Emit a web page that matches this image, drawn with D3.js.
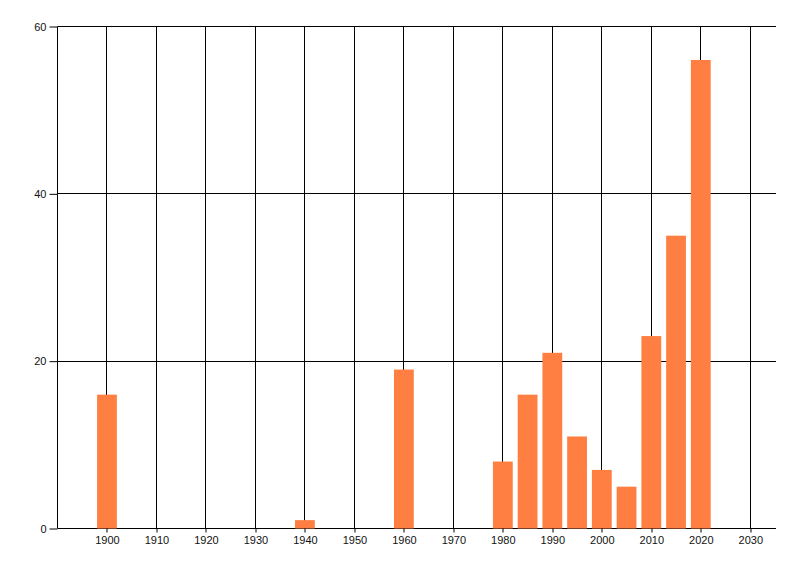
<!DOCTYPE html>
<html><head><meta charset="utf-8">
<script src="https://cdn.jsdelivr.net/npm/d3@7"></script>
<style>body{margin:0;background:#fff}svg{display:block}text{font-family:"Liberation Sans",Arial,sans-serif;font-size:11px;fill:#111}</style>
</head><body><svg id="c" width="800" height="576"></svg>
<script>
const years = [1900, 1940, 1960, 1980, 1985, 1990, 1995, 2000, 2005, 2010, 2015, 2020];
const counts = [16, 1, 19, 8, 16, 21, 11, 7, 5, 23, 35, 56];
const xTicks = [1900, 1910, 1920, 1930, 1940, 1950, 1960, 1970, 1980, 1990, 2000, 2010, 2020, 2030];
const yTicks = [0, 20, 40, 60];

const svg = d3.select("#c");
const x = d3.scaleLinear().domain([1890, 2035.2]).range([57.5, 776]);
const y = d3.scaleLinear().domain([0, 60]).range([528.5, 26.5]);
const snap = v => Math.round(v - 0.5) + 0.5;

// grid
svg.append("g").selectAll("line").data(xTicks).join("line")
  .attr("x1", d => snap(x(d))).attr("x2", d => snap(x(d)))
  .attr("y1", y(60)).attr("y2", y(0)).attr("stroke", "#000");
svg.append("g").selectAll("line").data(yTicks).join("line")
  .attr("x1", 57.5).attr("x2", 776).attr("y1", d => snap(y(d))).attr("y2", d => snap(y(d))).attr("stroke", "#000");
svg.append("line").attr("x1", 57.5).attr("x2", 57.5).attr("y1", y(60)).attr("y2", y(0)).attr("stroke", "#000");

// bars
const bw = 4;
svg.append("g").selectAll("rect").data(years).join("rect")
  .attr("x", d => x(d - bw/2)).attr("width", d => x(d + bw/2) - x(d - bw/2))
  .attr("y", (d, i) => y(counts[i])).attr("height", (d, i) => y(0) - y(counts[i]))
  .attr("fill", "#ff7f42");

// axes
const xa = svg.append("g").attr("transform", `translate(0,${snap(y(0))})`)
  .call(d3.axisBottom(x).tickValues(xTicks).tickFormat(d3.format("d")).tickSize(4).tickSizeOuter(0).tickPadding(4));
xa.select(".domain").remove();
xa.selectAll(".tick line").attr("transform", function(d){return `translate(${snap(x(d)) - x(d)},0)`;});
const ya = svg.append("g").attr("transform", "translate(57.5,0)")
  .call(d3.axisLeft(y).tickValues(yTicks).tickSize(8).tickSizeOuter(0).tickPadding(3));
ya.select(".domain").remove();
svg.selectAll(".tick text").attr("fill", "#111").style("font-family", "'Liberation Sans',Arial,sans-serif").style("font-size", "11px");
</script></body></html>
